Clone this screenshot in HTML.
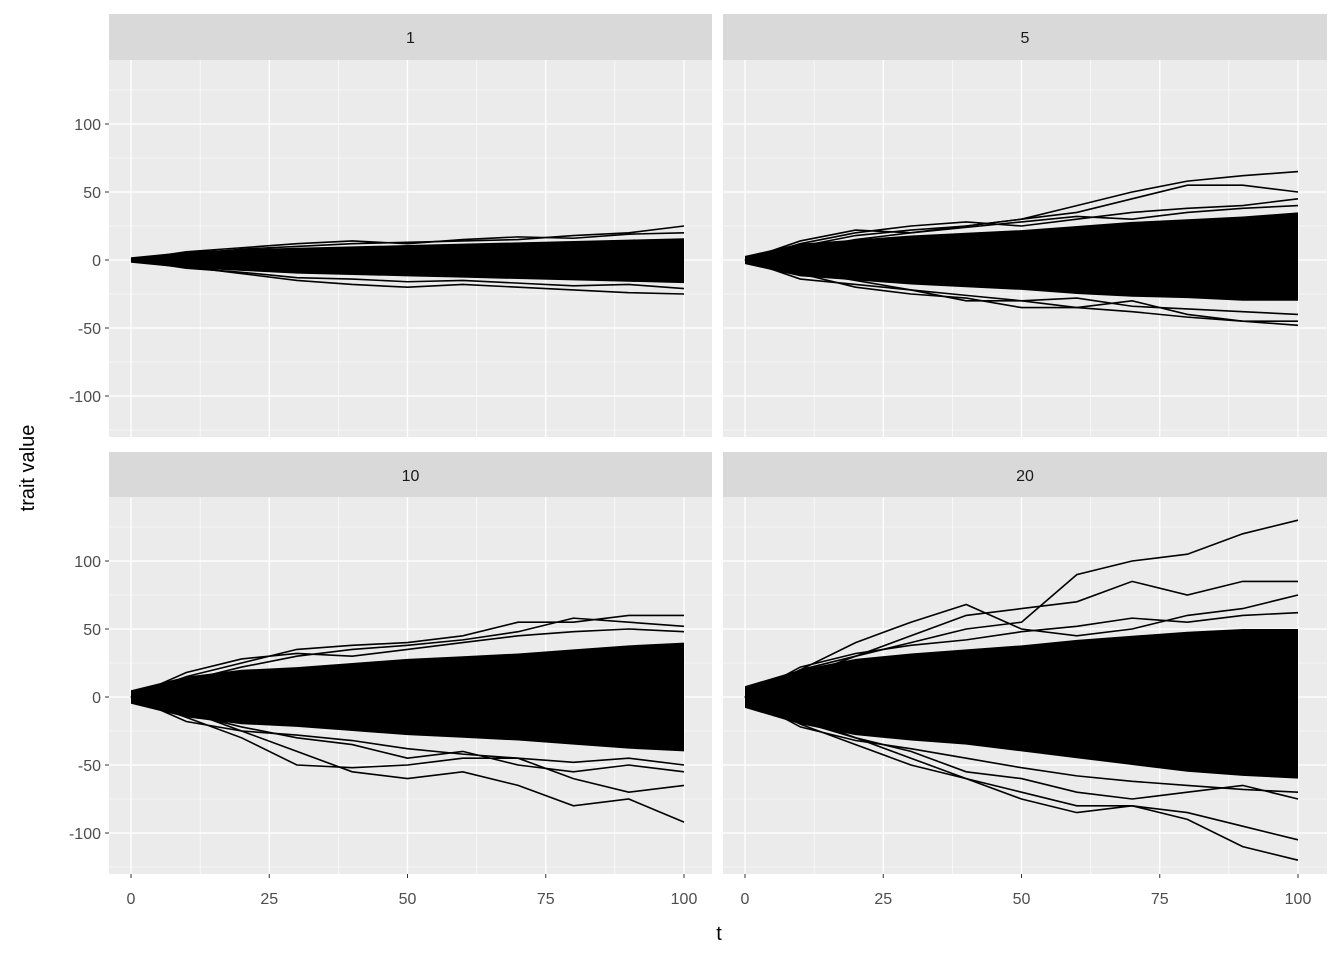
<!DOCTYPE html>
<html><head><meta charset="utf-8"><style>
body{margin:0;background:#fff;}
svg{display:block;font-family:"Liberation Sans",sans-serif;}
</style></head><body>
<svg id="c" width="1344" height="960"></svg>
<script>
const tSteps=[0,10,20,30,40,50,60,70,80,90,100];
const facetLabels=["1","5","10","20"];
const xTicks=[0,25,50,75,100];
const yTicks=[-100,-50,0,50,100];
const coreUpper=[
 [2,6,8,9,10,11,12,13,14,15,16],
 [3,12,15,18,20,22,25,28,30,32,35],
 [5,15,20,22,25,28,30,32,35,38,40],
 [8,20,28,32,35,38,42,45,48,50,50]];
const coreLower=[
 [-2,-6,-8,-10,-11,-12,-13,-14,-15,-16,-17],
 [-3,-12,-15,-18,-20,-22,-25,-27,-28,-30,-30],
 [-5,-15,-20,-22,-25,-28,-30,-32,-35,-38,-40],
 [-8,-20,-28,-32,-35,-40,-45,-50,-55,-58,-60]];
const walks1=[[0,4,8,10,12,13,14,15,18,20,25],[0,-5,-10,-15,-18,-20,-18,-20,-22,-24,-25],[0,6,9,12,14,12,15,17,16,19,20],[0,-6,-9,-13,-14,-16,-15,-17,-19,-18,-21]];
const walks5=[[0,10,18,22,25,30,40,50,58,62,65],[0,8,15,20,25,30,35,45,55,55,50],[0,-10,-20,-25,-28,-35,-35,-38,-42,-45,-45],[0,-8,-15,-22,-30,-30,-35,-30,-40,-45,-48],[0,12,20,25,28,25,30,35,38,40,45],[0,-14,-18,-22,-26,-30,-28,-34,-36,-38,-40],[0,14,22,20,24,28,32,30,35,38,40]];
const walks10=[[0,15,25,35,38,40,45,55,55,60,60],[0,-10,-25,-40,-55,-60,-55,-65,-80,-75,-92],[0,-15,-30,-50,-52,-50,-45,-45,-60,-70,-65],[0,12,22,30,35,38,42,48,58,55,52],[0,-12,-22,-30,-35,-45,-40,-50,-55,-50,-55],[0,18,28,32,30,35,40,45,48,50,48],[0,-18,-25,-28,-32,-38,-42,-45,-48,-45,-50]];
const walks20=[[0,20,30,40,50,55,90,100,105,120,130],[0,15,30,45,60,65,70,85,75,85,85],[0,-15,-30,-45,-60,-70,-80,-80,-85,-95,-105],[0,-20,-35,-50,-60,-75,-85,-80,-90,-110,-120],[0,20,40,55,68,50,45,50,60,65,75],[0,-18,-30,-40,-55,-60,-70,-75,-70,-65,-75],[0,22,32,38,42,48,52,58,55,60,62],[0,-22,-32,-38,-45,-52,-58,-62,-65,-68,-70]];
const allWalks=[walks1,walks5,walks10,walks20];

const NS="http://www.w3.org/2000/svg";
const svg=document.getElementById('c');
function mk(tag,attrs,parent){const e=document.createElementNS(NS,tag);for(const k in attrs)e.setAttribute(k,attrs[k]);(parent||svg).appendChild(e);return e;}
const panels=[{x0:109,x1:712,y0:60,y1:437,sy:14},{x0:723,x1:1327,y0:60,y1:437,sy:14},{x0:109,x1:712,y0:497,y1:874,sy:452},{x0:723,x1:1327,y0:497,y1:874,sy:452}];
panels.forEach((p,i)=>{
 const xs=v=>p.x0+22+v*5.53;
 const zeroY=p.y0+200;
 const ys=v=>zeroY-v*1.36;
 const g=mk('g',{});
 
 
 const bg=mk('rect',{x:p.x0,y:p.y0,width:p.x1-p.x0,height:p.y1-p.y0,fill:'#ebebeb'},g);
 
 
 const st=mk('rect',{x:p.x0,y:p.sy,width:p.x1-p.x0,height:p.y0-p.sy,fill:'#d9d9d9'},g);
 
 
 const stt=mk('text',{x:(p.x0+p.x1)/2,y:p.sy+29,'text-anchor':'middle','font-size':'16',fill:'#1a1a1a'},g);
 stt.textContent=facetLabels[i];
 
 
 [12.5,37.5,62.5,87.5].forEach(v=>mk('line',{x1:xs(v),x2:xs(v),y1:p.y0,y2:p.y1,stroke:'#fff','stroke-width':0.6},g));
 [-125,-75,-25,25,75,125].forEach(v=>{const y=ys(v);if(y>p.y0&&y<p.y1)mk('line',{x1:p.x0,x2:p.x1,y1:y,y2:y,stroke:'#fff','stroke-width':0.6},g);});
 xTicks.forEach(v=>mk('line',{x1:xs(v),x2:xs(v),y1:p.y0,y2:p.y1,stroke:'#fff','stroke-width':1.3},g));
 yTicks.forEach(v=>mk('line',{x1:p.x0,x2:p.x1,y1:ys(v),y2:ys(v),stroke:'#fff','stroke-width':1.3},g));
 let pts=tSteps.map((t,k)=>xs(t)+','+ys(coreUpper[i][k]));
 pts=pts.concat(tSteps.map((t,k)=>xs(t)+','+ys(coreLower[i][k])).reverse());
 const band=mk('polygon',{points:pts.join(' '),fill:'#000'},g);
 
 
 allWalks[i].forEach(w=>{
  const pl=mk('polyline',{points:tSteps.map((t,k)=>xs(t)+','+ys(w[k])).join(' '),fill:'none',stroke:'#000','stroke-width':1.6},g);
  
  
 });
 if(i>=2){xTicks.forEach(v=>{
  mk('line',{x1:xs(v),x2:xs(v),y1:p.y1,y2:p.y1+4,stroke:'#333'},g);
  const t=mk('text',{x:xs(v),y:p.y1+30,'text-anchor':'middle','font-size':'16',fill:'#4d4d4d'},g);
  t.textContent=v;
  
  
 });}
 if(i%2==0){yTicks.forEach(v=>{
  mk('line',{x1:p.x0-4,x2:p.x0,y1:ys(v),y2:ys(v),stroke:'#333'},g);
  const t=mk('text',{x:p.x0-8,y:ys(v)+6,'text-anchor':'end','font-size':'16',fill:'#4d4d4d'},g);
  t.textContent=v;
  
  
 });}
});
const xt=mk('text',{x:719,y:940,'text-anchor':'middle','font-size':'20',fill:'#000'});
xt.textContent='t';


const yt=mk('text',{x:34,y:468,'text-anchor':'middle','font-size':'20',fill:'#000',transform:'rotate(-90 34 468)'});
yt.textContent='trait value';


</script>
</body></html>
